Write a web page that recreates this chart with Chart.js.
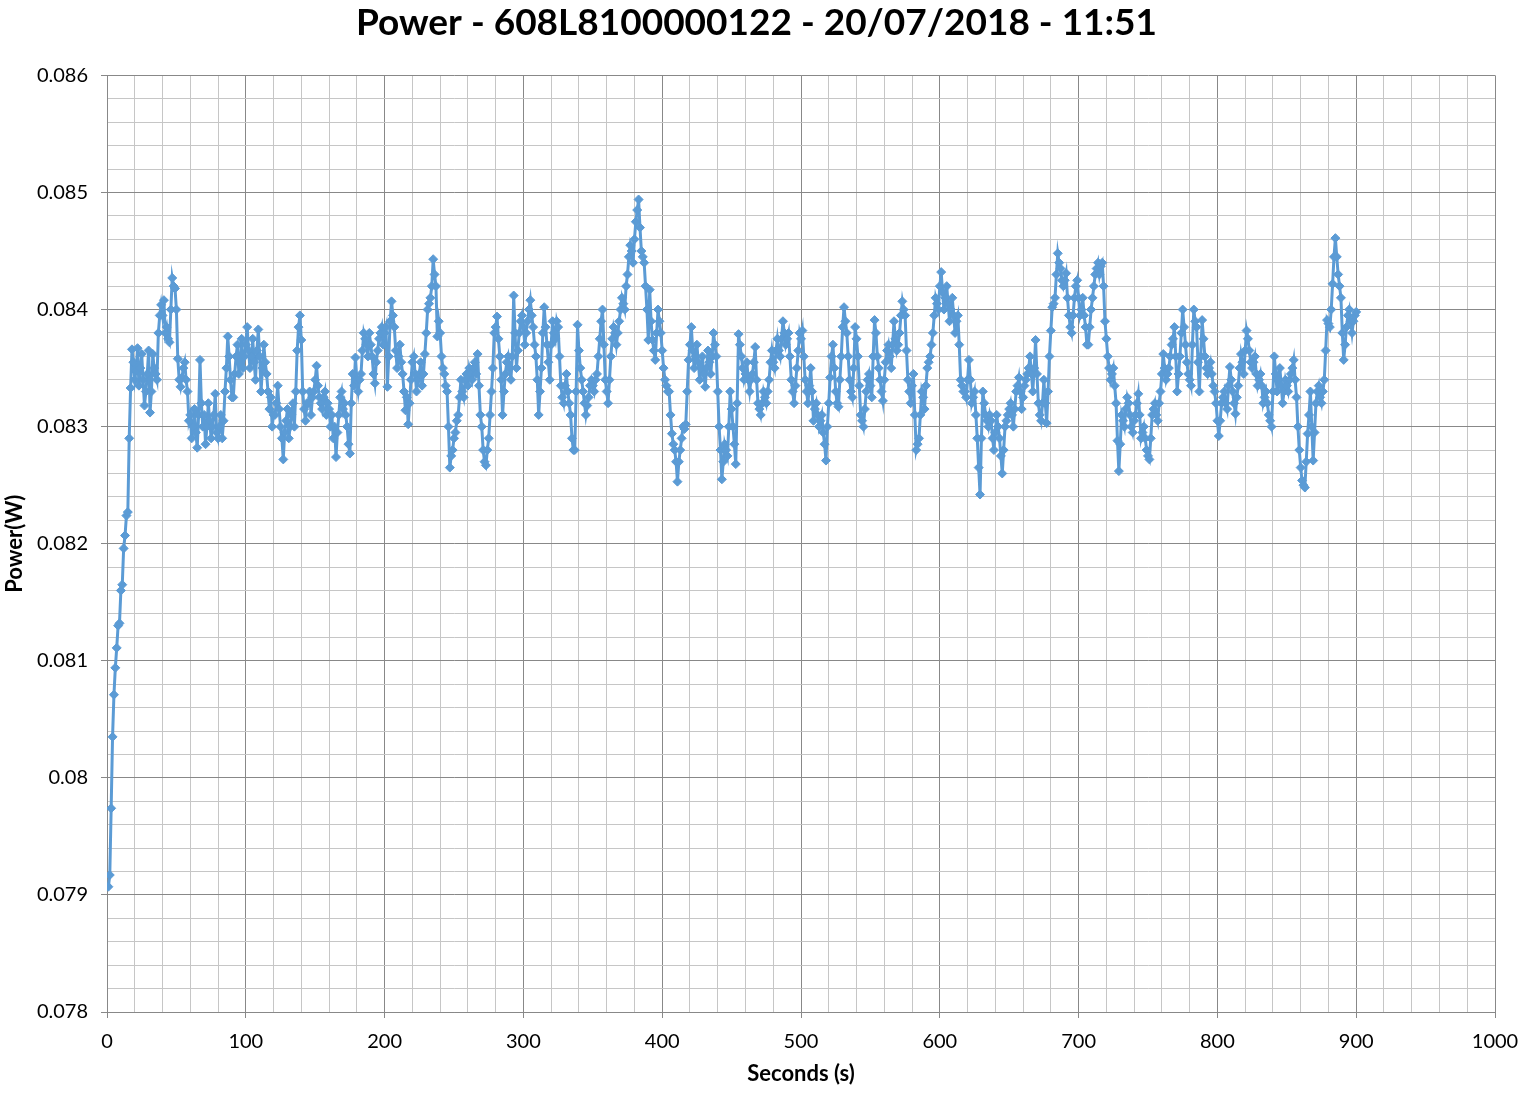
<!DOCTYPE html>
<html>
<head>
<meta charset="utf-8">
<script src="https://cdn.jsdelivr.net/npm/chart.js@4/dist/chart.umd.min.js"></script>
<style>
  html, body { margin: 0; padding: 0; background: #fff; }
  canvas { display: block; }
</style>
</head>
<body>
<canvas id="powerChart" width="1522" height="1093"></canvas>
<script>
// Power readings, one per second starting at t = 1 s (20 readings per row)
const chartTitle = "Power - 608L8100000122 - 20/07/2018 - 11:51";
const startSec = 1;
const stepSec = 1;
const powerW = [
  0.07907, 0.07917, 0.07974, 0.08035, 0.08071, 0.08094, 0.08111, 0.08130, 0.08132, 0.08160, 0.08165, 0.08196, 0.08207, 0.08224, 0.08227, 0.08290, 0.08333, 0.08366, 0.08355, 0.08340,
  0.08348, 0.08367, 0.08335, 0.08350, 0.08362, 0.08340, 0.08318, 0.08330, 0.08345, 0.08365, 0.08312, 0.08330, 0.08362, 0.08350, 0.08345, 0.08340, 0.08380, 0.08395, 0.08404, 0.08395,
  0.08408, 0.08380, 0.08385, 0.08375, 0.08372, 0.08400, 0.08427, 0.08420, 0.08418, 0.08400, 0.08358, 0.08340, 0.08334, 0.08342, 0.08350, 0.08355, 0.08340, 0.08330, 0.08305, 0.08310,
  0.08290, 0.08300, 0.08315, 0.08295, 0.08282, 0.08310, 0.08357, 0.08320, 0.08300, 0.08310, 0.08285, 0.08300, 0.08320, 0.08305, 0.08290, 0.08300, 0.08310, 0.08328, 0.08295, 0.08290,
  0.08300, 0.08310, 0.08290, 0.08305, 0.08330, 0.08350, 0.08377, 0.08360, 0.08340, 0.08325, 0.08325, 0.08345, 0.08360, 0.08370, 0.08345, 0.08355, 0.08375, 0.08350, 0.08360, 0.08370,
  0.08385, 0.08365, 0.08350, 0.08360, 0.08375, 0.08355, 0.08340, 0.08365, 0.08383, 0.08360, 0.08330, 0.08350, 0.08370, 0.08355, 0.08345, 0.08330, 0.08315, 0.08325, 0.08300, 0.08310,
  0.08310, 0.08320, 0.08335, 0.08315, 0.08300, 0.08290, 0.08272, 0.08295, 0.08305, 0.08315, 0.08290, 0.08300, 0.08310, 0.08320, 0.08300, 0.08330, 0.08365, 0.08385, 0.08395, 0.08374,
  0.08330, 0.08315, 0.08305, 0.08320, 0.08320, 0.08330, 0.08310, 0.08325, 0.08330, 0.08340, 0.08352, 0.08335, 0.08325, 0.08320, 0.08315, 0.08325, 0.08330, 0.08310, 0.08320, 0.08315,
  0.08300, 0.08310, 0.08290, 0.08300, 0.08274, 0.08295, 0.08310, 0.08325, 0.08330, 0.08315, 0.08320, 0.08310, 0.08300, 0.08285, 0.08277, 0.08320, 0.08345, 0.08335, 0.08359, 0.08340,
  0.08330, 0.08340, 0.08345, 0.08365, 0.08380, 0.08375, 0.08370, 0.08360, 0.08380, 0.08370, 0.08360, 0.08345, 0.08337, 0.08355, 0.08365, 0.08375, 0.08380, 0.08385, 0.08370, 0.08380,
  0.08385, 0.08334, 0.08360, 0.08390, 0.08407, 0.08395, 0.08385, 0.08365, 0.08350, 0.08360, 0.08370, 0.08355, 0.08345, 0.08330, 0.08314, 0.08325, 0.08302, 0.08320, 0.08340, 0.08355,
  0.08360, 0.08345, 0.08330, 0.08340, 0.08345, 0.08355, 0.08335, 0.08345, 0.08362, 0.08380, 0.08400, 0.08405, 0.08410, 0.08420, 0.08443, 0.08430, 0.08420, 0.08377, 0.08390, 0.08380,
  0.08360, 0.08350, 0.08345, 0.08335, 0.08330, 0.08300, 0.08265, 0.08275, 0.08280, 0.08290, 0.08295, 0.08305, 0.08310, 0.08325, 0.08340, 0.08330, 0.08325, 0.08340, 0.08345, 0.08335,
  0.08350, 0.08345, 0.08340, 0.08350, 0.08355, 0.08345, 0.08362, 0.08335, 0.08310, 0.08300, 0.08280, 0.08270, 0.08267, 0.08280, 0.08290, 0.08310, 0.08330, 0.08350, 0.08380, 0.08385,
  0.08394, 0.08375, 0.08360, 0.08340, 0.08310, 0.08330, 0.08345, 0.08355, 0.08360, 0.08350, 0.08340, 0.08360, 0.08412, 0.08380, 0.08350, 0.08365, 0.08380, 0.08390, 0.08395, 0.08385,
  0.08370, 0.08380, 0.08390, 0.08400, 0.08408, 0.08395, 0.08385, 0.08370, 0.08360, 0.08340, 0.08310, 0.08330, 0.08350, 0.08380, 0.08402, 0.08385, 0.08370, 0.08355, 0.08340, 0.08370,
  0.08390, 0.08380, 0.08375, 0.08390, 0.08385, 0.08360, 0.08335, 0.08325, 0.08320, 0.08335, 0.08345, 0.08330, 0.08320, 0.08310, 0.08290, 0.08280, 0.08280, 0.08330, 0.08387, 0.08365,
  0.08350, 0.08340, 0.08330, 0.08320, 0.08310, 0.08318, 0.08325, 0.08335, 0.08340, 0.08335, 0.08330, 0.08340, 0.08345, 0.08360, 0.08375, 0.08390, 0.08400, 0.08370, 0.08340, 0.08330,
  0.08320, 0.08340, 0.08360, 0.08375, 0.08385, 0.08380, 0.08370, 0.08380, 0.08390, 0.08400, 0.08410, 0.08405, 0.08400, 0.08420, 0.08430, 0.08445, 0.08455, 0.08450, 0.08440, 0.08460,
  0.08475, 0.08485, 0.08494, 0.08470, 0.08450, 0.08445, 0.08440, 0.08420, 0.08400, 0.08374, 0.08417, 0.08390, 0.08374, 0.08365, 0.08357, 0.08380, 0.08400, 0.08390, 0.08380, 0.08365,
  0.08350, 0.08340, 0.08335, 0.08330, 0.08330, 0.08310, 0.08294, 0.08285, 0.08280, 0.08270, 0.08253, 0.08270, 0.08280, 0.08290, 0.08300, 0.08298, 0.08302, 0.08330, 0.08357, 0.08370,
  0.08385, 0.08365, 0.08350, 0.08360, 0.08370, 0.08355, 0.08340, 0.08350, 0.08360, 0.08345, 0.08334, 0.08350, 0.08365, 0.08355, 0.08345, 0.08360, 0.08380, 0.08370, 0.08360, 0.08330,
  0.08300, 0.08280, 0.08255, 0.08270, 0.08285, 0.08280, 0.08275, 0.08300, 0.08330, 0.08315, 0.08300, 0.08285, 0.08268, 0.08320, 0.08379, 0.08370, 0.08360, 0.08350, 0.08340, 0.08345,
  0.08355, 0.08340, 0.08330, 0.08340, 0.08345, 0.08355, 0.08368, 0.08340, 0.08320, 0.08315, 0.08310, 0.08320, 0.08330, 0.08325, 0.08320, 0.08330, 0.08340, 0.08355, 0.08365, 0.08355,
  0.08350, 0.08365, 0.08375, 0.08365, 0.08360, 0.08375, 0.08390, 0.08380, 0.08370, 0.08375, 0.08380, 0.08360, 0.08340, 0.08330, 0.08320, 0.08335, 0.08350, 0.08365, 0.08380, 0.08375,
  0.08382, 0.08360, 0.08340, 0.08330, 0.08320, 0.08335, 0.08350, 0.08330, 0.08305, 0.08315, 0.08320, 0.08310, 0.08300, 0.08305, 0.08310, 0.08295, 0.08285, 0.08271, 0.08300, 0.08320,
  0.08342, 0.08360, 0.08370, 0.08350, 0.08330, 0.08320, 0.08317, 0.08340, 0.08360, 0.08385, 0.08402, 0.08390, 0.08380, 0.08360, 0.08340, 0.08330, 0.08325, 0.08350, 0.08385, 0.08375,
  0.08360, 0.08335, 0.08310, 0.08305, 0.08300, 0.08315, 0.08330, 0.08340, 0.08345, 0.08335, 0.08325, 0.08360, 0.08391, 0.08380, 0.08360, 0.08350, 0.08340, 0.08330, 0.08322, 0.08340,
  0.08355, 0.08365, 0.08370, 0.08360, 0.08350, 0.08370, 0.08390, 0.08375, 0.08365, 0.08370, 0.08380, 0.08395, 0.08407, 0.08400, 0.08395, 0.08365, 0.08340, 0.08330, 0.08320, 0.08335,
  0.08345, 0.08310, 0.08280, 0.08285, 0.08290, 0.08310, 0.08330, 0.08325, 0.08315, 0.08335, 0.08350, 0.08355, 0.08360, 0.08370, 0.08380, 0.08395, 0.08410, 0.08405, 0.08400, 0.08420,
  0.08432, 0.08415, 0.08400, 0.08410, 0.08420, 0.08405, 0.08390, 0.08400, 0.08410, 0.08395, 0.08380, 0.08390, 0.08395, 0.08370, 0.08340, 0.08335, 0.08330, 0.08330, 0.08325, 0.08340,
  0.08357, 0.08340, 0.08320, 0.08325, 0.08330, 0.08310, 0.08290, 0.08265, 0.08242, 0.08290, 0.08330, 0.08320, 0.08310, 0.08305, 0.08300, 0.08310, 0.08305, 0.08290, 0.08280, 0.08295,
  0.08310, 0.08300, 0.08290, 0.08275, 0.08260, 0.08280, 0.08300, 0.08305, 0.08310, 0.08315, 0.08320, 0.08310, 0.08300, 0.08315, 0.08330, 0.08335, 0.08342, 0.08330, 0.08315, 0.08325,
  0.08335, 0.08340, 0.08345, 0.08350, 0.08360, 0.08345, 0.08330, 0.08350, 0.08374, 0.08345, 0.08320, 0.08310, 0.08305, 0.08320, 0.08340, 0.08320, 0.08303, 0.08330, 0.08360, 0.08382,
  0.08402, 0.08405, 0.08410, 0.08430, 0.08448, 0.08440, 0.08435, 0.08425, 0.08420, 0.08425, 0.08431, 0.08410, 0.08395, 0.08385, 0.08380, 0.08395, 0.08410, 0.08420, 0.08425, 0.08410,
  0.08395, 0.08400, 0.08410, 0.08395, 0.08385, 0.08370, 0.08370, 0.08385, 0.08400, 0.08410, 0.08420, 0.08430, 0.08435, 0.08440, 0.08430, 0.08437, 0.08440, 0.08420, 0.08390, 0.08375,
  0.08360, 0.08350, 0.08340, 0.08345, 0.08350, 0.08335, 0.08320, 0.08288, 0.08262, 0.08285, 0.08310, 0.08305, 0.08300, 0.08315, 0.08325, 0.08320, 0.08310, 0.08300, 0.08295, 0.08305,
  0.08310, 0.08320, 0.08328, 0.08310, 0.08290, 0.08295, 0.08300, 0.08290, 0.08280, 0.08275, 0.08272, 0.08290, 0.08310, 0.08315, 0.08320, 0.08310, 0.08305, 0.08320, 0.08330, 0.08345,
  0.08362, 0.08350, 0.08340, 0.08345, 0.08350, 0.08360, 0.08370, 0.08375, 0.08385, 0.08360, 0.08330, 0.08345, 0.08360, 0.08380, 0.08400, 0.08385, 0.08370, 0.08355, 0.08345, 0.08340,
  0.08335, 0.08370, 0.08400, 0.08390, 0.08385, 0.08355, 0.08330, 0.08360, 0.08391, 0.08375, 0.08360, 0.08350, 0.08345, 0.08350, 0.08355, 0.08345, 0.08335, 0.08330, 0.08320, 0.08305,
  0.08292, 0.08305, 0.08320, 0.08325, 0.08330, 0.08320, 0.08315, 0.08335, 0.08351, 0.08340, 0.08330, 0.08320, 0.08311, 0.08325, 0.08335, 0.08350, 0.08362, 0.08355, 0.08345, 0.08365,
  0.08382, 0.08375, 0.08365, 0.08355, 0.08350, 0.08355, 0.08360, 0.08345, 0.08335, 0.08340, 0.08345, 0.08335, 0.08320, 0.08325, 0.08330, 0.08320, 0.08310, 0.08305, 0.08300, 0.08330,
  0.08360, 0.08345, 0.08330, 0.08340, 0.08350, 0.08335, 0.08320, 0.08330, 0.08340, 0.08335, 0.08330, 0.08340, 0.08345, 0.08350, 0.08357, 0.08340, 0.08325, 0.08300, 0.08280, 0.08265,
  0.08254, 0.08250, 0.08248, 0.08270, 0.08294, 0.08310, 0.08330, 0.08300, 0.08271, 0.08295, 0.08320, 0.08330, 0.08335, 0.08325, 0.08320, 0.08330, 0.08340, 0.08365, 0.08391, 0.08388,
  0.08385, 0.08400, 0.08422, 0.08445, 0.08461, 0.08445, 0.08430, 0.08420, 0.08410, 0.08380, 0.08357, 0.08370, 0.08385, 0.08395, 0.08400, 0.08390, 0.08380, 0.08390, 0.08395, 0.08398
];

const xMin = 0, xMax = 1000, xMajor = 100, xMinor = 20;
const yMin = 0.078, yMax = 0.086, yMajor = 0.001, yMinor = 0.0002;

const lineColor = "#5B9BD5";
const majorGrid = "#888888";
const minorGrid = "#c6c6c6";
const fontFamily = "Lato, 'Open Sans', sans-serif";

function isMajor(v, step) {
  const r = v / step;
  return Math.abs(r - Math.round(r)) < 1e-6;
}

const points = powerW.map((v, i) => ({ x: startSec + i * stepSec, y: v }));

const ctx = document.getElementById("powerChart").getContext("2d");
new Chart(ctx, {
  type: "line",
  data: {
    datasets: [{
      label: "Power(W)",
      data: points,
      borderColor: lineColor,
      backgroundColor: lineColor,
      borderWidth: 3,
      pointStyle: "rectRot",
      pointRadius: 4.5,
      pointBorderWidth: 1,
      pointBackgroundColor: lineColor,
      pointBorderColor: lineColor,
      tension: 0,
      fill: false
    }]
  },
  options: {
    responsive: false,
    animation: false,
    // small right padding keeps the title centred like the original;
    // the x scale reserves the real gap on the right of the plot
    layout: { padding: { left: 0, right: 9, top: 0, bottom: 0 } },
    plugins: {
      legend: { display: false },
      tooltip: { enabled: false },
      title: {
        display: true,
        text: chartTitle,
        color: "#000",
        font: { family: fontFamily, size: 37, weight: "bold" },
        padding: { top: 1, bottom: 30 }
      }
    },
    scales: {
      x: {
        type: "linear",
        min: xMin,
        max: xMax,
        afterFit: s => { s.height = 81; s.paddingLeft = 0; s.paddingRight = 27; },
        border: { color: majorGrid, width: 1 },
        grid: {
          color: c => isMajor(c.tick.value, xMajor) ? majorGrid : minorGrid,
          tickColor: c => isMajor(c.tick.value, xMajor) ? majorGrid : "rgba(0,0,0,0)",
          tickLength: 6,
          lineWidth: 1
        },
        ticks: {
          stepSize: xMinor,
          maxTicksLimit: 200,
          autoSkip: false,
          maxRotation: 0,
          padding: 12,
          color: "#000",
          font: { family: fontFamily, size: 20 },
          callback: v => isMajor(v, xMajor) ? String(v) : ""
        },
        title: {
          display: true,
          text: "Seconds (s)",
          color: "#000",
          font: { family: fontFamily, size: 22, weight: "bold" },
          padding: { top: 6, bottom: 6 }
        }
      },
      y: {
        min: yMin,
        max: yMax,
        afterFit: s => { s.width = 107; },
        border: { color: majorGrid, width: 1 },
        grid: {
          color: c => isMajor(c.tick.value, yMajor) ? majorGrid : minorGrid,
          tickColor: c => isMajor(c.tick.value, yMajor) ? majorGrid : "rgba(0,0,0,0)",
          tickLength: 6,
          lineWidth: 1
        },
        ticks: {
          stepSize: yMinor,
          maxTicksLimit: 200,
          autoSkip: false,
          padding: 13,
          color: "#000",
          font: { family: fontFamily, size: 20 },
          callback: v => isMajor(v, yMajor) ? String(+v.toFixed(3)) : ""
        },
        title: {
          display: true,
          text: "Power(W)",
          color: "#000",
          font: { family: fontFamily, size: 22, weight: "bold" },
          padding: { top: 2, bottom: 0 }
        }
      }
    }
  }
});
</script>
</body>
</html>
